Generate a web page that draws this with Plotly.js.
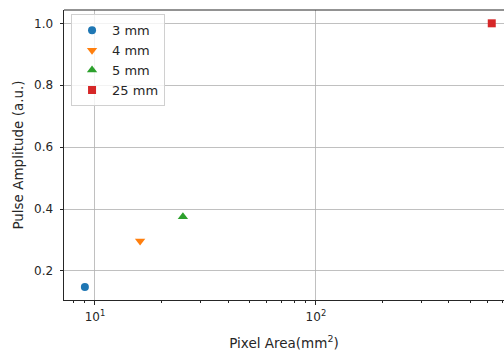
<!DOCTYPE html>
<html><head><meta charset="utf-8">
<script src="https://cdn.plot.ly/plotly-3.0.1.min.js"></script>
<style>html,body{margin:0;padding:0;background:#fff}#c{width:504px;height:352px}</style>
</head><body><div id="c"></div>
<script>
const labels = ["3 mm", "4 mm", "5 mm", "25 mm"];
const areas = [9, 16, 25, 625];
const amplitudes = [0.148, 0.297, 0.375, 1.0];
const colors = ["#1f77b4", "#ff7f0e", "#2ca02c", "#d62728"];
const symbols = ["circle", "triangle-down", "triangle-up", "square"];
const sizes = [8, 9, 9, 8];
const yTicks = [0.2, 0.4, 0.6, 0.8, 1.0];
const yTickText = ["0.2", "0.4", "0.6", "0.8", "1.0"];
const xTicks = [10, 100];
const xTickText = ["10<sup>1</sup>", "10<sup>2</sup>"];
const xMinor = [8, 9, 20, 30, 40, 50, 60, 70, 80, 90, 200, 300, 400, 500, 600, 700];

const traces = labels.map((l, i) => ({
  x: [areas[i]], y: [amplitudes[i]], name: l, type: "scatter", mode: "markers",
  marker: {color: colors[i], symbol: symbols[i], size: sizes[i], line: {width: 0}}
}));

const layout = {
  width: 504, height: 352,
  margin: {l: 64, r: 0, t: 10, b: 52},
  paper_bgcolor: "#fff", plot_bgcolor: "#fff",
  font: {family: "DejaVu Sans", size: 12, color: "#262626"},
  showlegend: true,
  legend: {x: 0.016, y: 0.985, xanchor: "left", yanchor: "top",
    bgcolor: "rgba(255,255,255,0.8)", bordercolor: "#d0d0d0", borderwidth: 1,
    tracegroupgap: 0, itemwidth: 30,
    font: {family: "DejaVu Sans", size: 13, color: "#262626"}},
  xaxis: {type: "log", range: [Math.log10(7.24), Math.log10(710)],
    tickvals: xTicks, ticktext: xTickText, ticklabelstandoff: 2,
    showgrid: true, gridcolor: "#b0b0b0", gridwidth: 0.8,
    showline: true, linecolor: "#262626", linewidth: 1,
    ticks: "outside", ticklen: 3.5, tickcolor: "#262626",
    minor: {tickvals: xMinor, ticks: "outside", ticklen: 2, tickcolor: "#262626", showgrid: false},
    zeroline: false,
    title: {text: "Pixel Area(mm<sup>2</sup>)", font: {size: 13.5}, standoff: 15}},
  yaxis: {range: [0.106, 1.043], tickvals: yTicks, ticktext: yTickText, ticklabelstandoff: 4,
    showgrid: true, gridcolor: "#b0b0b0", gridwidth: 0.8,
    showline: true, linecolor: "#262626", linewidth: 1,
    ticks: "outside", ticklen: 3.5, tickcolor: "#262626",
    zeroline: false,
    title: {text: "Pulse Amplitude (a.u.)", font: {size: 13.5}, standoff: 7}},
  shapes: [{type: "line", xref: "paper", yref: "paper", x0: 0, x1: 1, y0: 1, y1: 1,
    line: {color: "#262626", width: 1}}]
};
Plotly.newPlot("c", traces, layout, {displayModeBar: false, staticPlot: true});
</script></body></html>
